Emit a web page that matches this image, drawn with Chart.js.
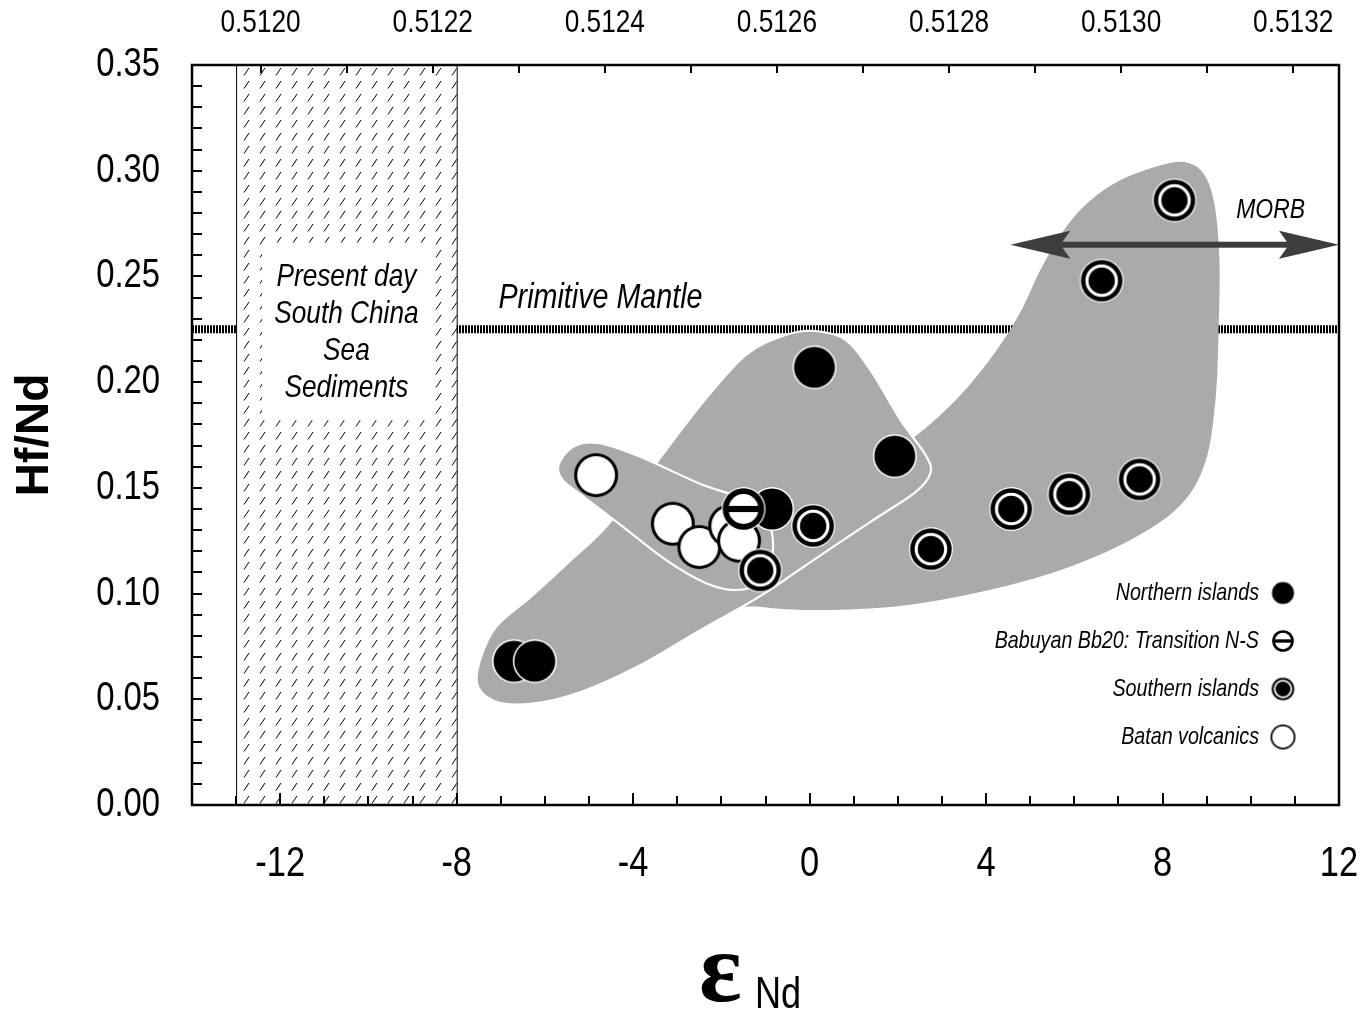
<!DOCTYPE html>
<html>
<head>
<meta charset="utf-8">
<script src="https://cdn.jsdelivr.net/npm/chart.js@4.4.1/dist/chart.umd.min.js"></script>
<style>
html,body{margin:0;padding:0;background:#fff;}
#wrap{width:1368px;height:1018px;}
</style>
</head>
<body>
<div id="wrap"><canvas id="myChart"></canvas></div>
<script>
'use strict';
const SANS="'Liberation Sans',Arial,sans-serif";
const CHUR=0.512638;

// points: eNd and Hf/Nd
let northernEnd=[-6.70,-6.23,0.11,1.93,-0.85];
let northernHf=[0.068,0.068,0.207,0.165,0.140];
let babuyanEnd=[-1.50];
let babuyanHf=[0.140];
let southernEnd=[8.27,6.62,7.48,5.89,4.57,2.75,0.08,-1.12];
let southernHf=[0.286,0.248,0.154,0.147,0.140,0.121,0.132,0.111];
let batanEnd=[-4.84,-3.10,-2.50,-1.80,-1.60];
let batanHf=[0.156,0.133,0.122,0.132,0.125];

let xLabels=[-12,-8,-4,0,4,8,12];
let yLabels=[0.00,0.05,0.10,0.15,0.20,0.25,0.30,0.35];
let topLabels=[0.5120,0.5122,0.5124,0.5126,0.5128,0.5130,0.5132];

let primitiveMantle=0.225;
let sediments=[-13,-8];
let morbEnd=[4.55,12];
let morbHf=0.265;

// grey fields (eNd, Hf/Nd)
let southField=[[-1.90,0.097],[-1.11,0.0937],[0.25,0.0922],[2.06,0.0941],[3.87,0.1007],[5.69,0.1111],[7.27,0.1253],[8.41,0.1419],[8.97,0.1622],[9.20,0.1916],[9.27,0.2247],[9.29,0.2578],[9.18,0.2838],[8.95,0.2980],[8.59,0.3037],[8.07,0.3032],[7.05,0.2956],[6.25,0.2838],[5.69,0.2696],[5.23,0.2530],[4.78,0.2332],[4.21,0.2143],[3.42,0.1939],[2.52,0.1764],[1.38,0.1594],[0.25,0.1433],[-1.11,0.1230]];
let northField=[[-7.55,0.0601],[-7.16,0.0828],[-6.32,0.0984],[-5.48,0.1145],[-4.62,0.1315],[-3.60,0.1584],[-2.47,0.1892],[-1.45,0.2128],[-0.54,0.2223],[0.14,0.2242],[0.82,0.2199],[1.38,0.2057],[2.06,0.1821],[2.63,0.1655],[2.74,0.1570],[2.40,0.1480],[1.38,0.1339],[0.02,0.1149],[-1.11,0.0989],[-2.47,0.0828],[-3.83,0.0662],[-5.19,0.0534],[-6.32,0.0478],[-7.19,0.0496]];
let batanField=[[-5.69,0.1608],[-5.37,0.1693],[-4.80,0.1712],[-3.83,0.1646],[-2.47,0.1518],[-1.45,0.1443],[-0.93,0.1338],[-0.84,0.1182],[-1.11,0.1055],[-1.68,0.1017],[-2.36,0.1050],[-3.26,0.1159],[-4.28,0.1324],[-5.12,0.1457],[-5.60,0.1537]];

function pairs(xs,ys){return xs.map((x,i)=>({x:x,y:ys[i]}));}

function makeMarker(kind,r){
  let c=document.createElement('canvas');
  let s=Math.ceil(2*r+4);
  c.width=s;c.height=s;
  let g=c.getContext('2d');
  let m=s/2;
  function disc(rad,col){g.beginPath();g.arc(m,m,rad,0,Math.PI*2);g.fillStyle=col;g.fill();}
  if(kind==='northern'){disc(r,'#fff');disc(r-1.5,'#000');}
  else if(kind==='southern'){disc(r,'#fff');disc(r-1.2,'#000');disc(r*0.74,'#fff');disc(r*0.6,'#000');}
  else if(kind==='babuyan'){
    disc(r,'#fff');disc(r-1.2,'#000');disc(r*0.68,'#fff');
    g.fillStyle='#000';g.fillRect(m-r*0.7,m-r*0.14,r*1.4,r*0.28);
  }
  else{disc(r,'#000');disc(r*0.86,'#fff');}
  return c;
}
let big={northern:makeMarker('northern',22),babuyan:makeMarker('babuyan',22),southern:makeMarker('southern',22),batan:makeMarker('batan',22)};
let small={northern:makeMarker('northern',12.5),babuyan:makeMarker('babuyan',12),southern:makeMarker('southern',12.5),batan:makeMarker('batan',12.5)};

function hatchPattern(ctx){
  let c=document.createElement('canvas');
  c.width=16;c.height=13;
  let g=c.getContext('2d');
  g.strokeStyle='#000';g.lineWidth=1;
  g.beginPath();g.moveTo(4,10.5);g.lineTo(9,3);g.stroke();
  return ctx.createPattern(c,'repeat');
}

function smoothPath(ctx,pts){
  let n=pts.length;
  ctx.beginPath();ctx.moveTo(pts[0][0],pts[0][1]);
  for(let i=0;i<n;i++){
    let p0=pts[(i-1+n)%n],p1=pts[i],p2=pts[(i+1)%n],p3=pts[(i+2)%n];
    ctx.bezierCurveTo(p1[0]+(p2[0]-p0[0])/6,p1[1]+(p2[1]-p0[1])/6,p2[0]-(p3[0]-p1[0])/6,p2[1]-(p3[1]-p1[1])/6,p2[0],p2[1]);
  }
  ctx.closePath();
}

// condensed text: Liberation Sans squeezed to an Arial Narrow width
function narrow(ctx,text,x,y,size,align,style){
  ctx.save();
  ctx.font=(style||'')+' '+size+'px '+SANS;
  ctx.translate(x,y);ctx.scale(0.82,1);
  ctx.textAlign=align||'center';ctx.textBaseline='middle';
  ctx.fillText(text,0,0);
  ctx.restore();
}

function minorTicks(from,to,step){
  let out=[];
  for(let k=Math.ceil(from/step-1e-9);k*step<=to+1e-12;k++){out.push({value:k*step});}
  return out;
}
function isLabel(list,v,eps){return list.some(t=>Math.abs(t-v)<eps);}

const backdrop={
  id:'backdrop',
  beforeDatasetsDraw(chart){
    let ctx=chart.ctx,x=chart.scales.x,y=chart.scales.y,a=chart.chartArea;
    let px=v=>x.getPixelForValue(v),py=v=>y.getPixelForValue(v);
    ctx.save();
    ctx.beginPath();ctx.rect(a.left,a.top,a.right-a.left,a.bottom-a.top);ctx.clip();
    // primitive mantle
    ctx.strokeStyle='#000';ctx.lineWidth=8;ctx.setLineDash([2,1]);
    ctx.beginPath();ctx.moveTo(a.left,py(primitiveMantle));ctx.lineTo(a.right,py(primitiveMantle));ctx.stroke();
    ctx.setLineDash([]);
    // sediment box
    let x0=px(sediments[0]),x1=px(sediments[1]);
    ctx.fillStyle='#fff';ctx.fillRect(x0,a.top,x1-x0,a.bottom-a.top);
    ctx.fillStyle=hatchPattern(ctx);ctx.fillRect(x0,a.top,x1-x0,a.bottom-a.top);
    ctx.fillStyle='#fff';
    ctx.fillRect(x0+26,py(0.266),x1-x0-50,py(0.182)-py(0.266));
    ctx.strokeStyle='#000';ctx.lineWidth=1;
    ctx.beginPath();ctx.moveTo(x0+0.5,a.top);ctx.lineTo(x0+0.5,a.bottom);ctx.moveTo(x1+0.5,a.top);ctx.lineTo(x1+0.5,a.bottom);ctx.stroke();
    ctx.fillStyle='#000';
    let cx=(x0+x1)/2,ty=py(0.2495);
    ['Present day','South China','Sea','Sediments'].forEach((t,i)=>narrow(ctx,t,cx,ty+i*37,32,'center','italic'));
    // fields
    let toPx=f=>f.map(p=>[px(p[0]),py(p[1])]);
    ctx.fillStyle='#aaaaaa';
    smoothPath(ctx,toPx(southField));ctx.fill();
    ctx.strokeStyle='#fff';ctx.lineWidth=2.2;
    smoothPath(ctx,toPx(northField));ctx.fill();ctx.stroke();
    smoothPath(ctx,toPx(batanField));ctx.fill();ctx.stroke();
    // MORB arrow
    let ay=py(morbHf),l=px(morbEnd[0]),r=px(morbEnd[1]);
    ctx.fillStyle='#3d3d3d';
    ctx.fillRect(l+50,ay-3,r-l-100,6);
    ctx.beginPath();ctx.moveTo(l,ay);ctx.lineTo(l+60,ay-14);ctx.lineTo(l+50,ay);ctx.lineTo(l+60,ay+14);ctx.closePath();ctx.fill();
    ctx.beginPath();ctx.moveTo(r,ay);ctx.lineTo(r-60,ay-14);ctx.lineTo(r-50,ay);ctx.lineTo(r-60,ay+14);ctx.closePath();ctx.fill();
    ctx.fillStyle='#000';
    narrow(ctx,'MORB',px(10.45),py(0.2814),28,'center','italic');
    narrow(ctx,'Primitive Mantle',px(-4.74),py(0.2398),35,'center','italic');
    ctx.restore();
  },
  afterDatasetsDraw(chart){
    let ctx=chart.ctx,a=chart.chartArea,sx=chart.scales.x,sy=chart.scales.y,st=chart.scales.x2;
    ctx.save();
    ctx.strokeStyle='#000';ctx.lineWidth=2;
    ctx.beginPath();
    sx.ticks.forEach(t=>{
      let p=Math.round(sx.getPixelForValue(t.value));
      let len=isLabel(xLabels,t.value,1e-6)?12:9;
      ctx.moveTo(p,a.bottom);ctx.lineTo(p,a.bottom-len);
    });
    sy.ticks.forEach(t=>{
      let p=Math.round(sy.getPixelForValue(t.value));
      ctx.moveTo(a.left,p);ctx.lineTo(a.left+10,p);
    });
    st.ticks.forEach(t=>{
      let p=Math.round(st.getPixelForValue(t.value));
      ctx.moveTo(p,a.top);ctx.lineTo(p,a.top+8);
    });
    ctx.stroke();
    ctx.lineWidth=2.5;
    ctx.strokeRect(a.left,a.top,a.right-a.left,a.bottom-a.top);
    // tick labels from the label lists, placed by the scales
    ctx.fillStyle='#000';
    xLabels.forEach(v=>narrow(ctx,String(v),sx.getPixelForValue(v),864,42,'center'));
    yLabels.forEach(v=>narrow(ctx,v.toFixed(2),160,sy.getPixelForValue(v),40,'right'));
    topLabels.forEach(v=>narrow(ctx,v.toFixed(4),st.getPixelForValue(v),23,32,'center'));
    // legend
    let rows=[['Northern islands','northern'],['Babuyan Bb20: Transition N-S','babuyan'],['Southern islands','southern'],['Batan volcanics','batan']];
    rows.forEach((r,i)=>{
      let yy=a.bottom-212+i*48;
      narrow(ctx,r[0],a.right-80,yy,24,'right','italic');
      let m=small[r[1]];
      ctx.drawImage(m,a.right-56-m.width/2,yy-m.height/2);
    });
    // x title
    ctx.textAlign='left';ctx.textBaseline='alphabetic';
    ctx.font='bold 100px "Liberation Serif",serif';
    ctx.fillText('\u03b5',699,1001);
    ctx.restore();
    narrow(ctx,'Nd',778,996,44,'center');
  }
};

new Chart(document.getElementById('myChart'),{
  type:'scatter',
  data:{
    datasets:[
      {label:'Babuyan Bb20: Transition N-S',data:pairs(babuyanEnd,babuyanHf),pointStyle:big.babuyan,pointRadius:22,order:0},
      {label:'Southern islands',data:pairs(southernEnd,southernHf),pointStyle:big.southern,pointRadius:22,order:1},
      {label:'Northern islands',data:pairs(northernEnd,northernHf),pointStyle:big.northern,pointRadius:22,order:2},
      {label:'Batan volcanics',data:pairs(batanEnd,batanHf),pointStyle:big.batan,pointRadius:22,order:3}
    ]
  },
  options:{
    responsive:true,maintainAspectRatio:false,animation:false,
    layout:{padding:{right:29,left:0,top:0,bottom:0}},
    plugins:{legend:{display:false},tooltip:{enabled:false}},
    scales:{
      x:{type:'linear',position:'bottom',min:-14,max:12,
        afterFit(s){s.height=213;},
        afterBuildTicks(s){s.ticks=minorTicks(-14,12,1);},
        grid:{display:false,drawTicks:false},border:{display:false},
        ticks:{display:false}},
      x2:{type:'linear',position:'top',min:CHUR*(1-14e-4),max:CHUR*(1+12e-4),
        afterFit(s){s.height=65;},
        afterBuildTicks(s){s.ticks=minorTicks(0.5119,0.5133,0.0001).filter(t=>t.value>=s.min&&t.value<=s.max);},
        grid:{display:false,drawTicks:false},border:{display:false},
        ticks:{display:false}},
      y:{type:'linear',position:'left',min:0,max:0.35,
        afterFit(s){s.width=192;},
        afterBuildTicks(s){s.ticks=minorTicks(0,0.35,0.01);},
        grid:{display:false,drawTicks:false},border:{display:false},
        ticks:{display:false},
        title:{display:true,text:'Hf/Nd',color:'#000',font:{family:SANS,size:46,weight:'bold'},padding:{top:8,bottom:0}}}
    }
  },
  plugins:[backdrop]
});
</script>
</body>
</html>
